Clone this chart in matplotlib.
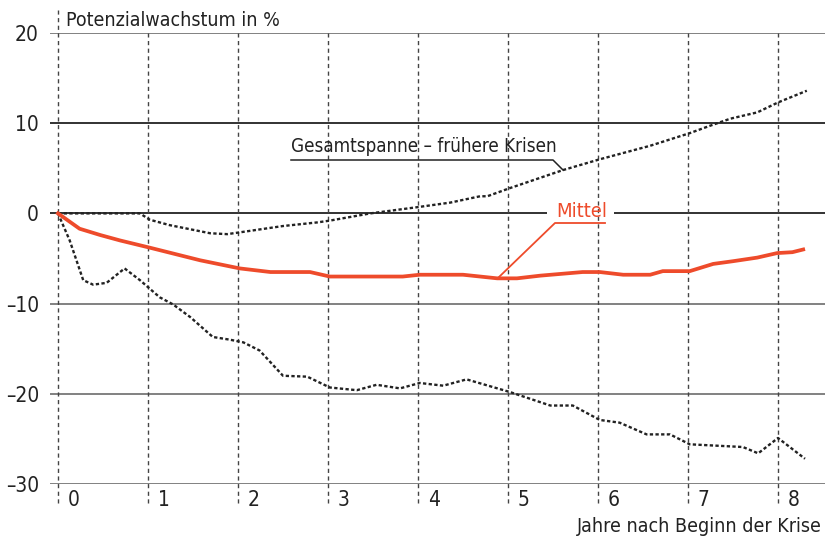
import matplotlib
matplotlib.use("Agg")
import matplotlib.pyplot as plt
from matplotlib import font_manager
from matplotlib.font_manager import FontProperties

# pick a condensed font if available
FONT = None
for f in font_manager.fontManager.ttflist:
    n = f.fname.lower()
    if ('condensed' in n or 'narrow' in n) and 'bold' not in n and 'oblique' not in n and 'italic' not in n:
        if FONT is None or 'dejavusans' in n.replace('-', '').replace('_', ''):
            FONT = f.fname
if FONT:
    FP = lambda size: FontProperties(fname=FONT, size=size)
else:
    FP = lambda size: FontProperties(family=['Roboto', 'DejaVu Sans'], size=size)

# ---- data ----
upper_x = [0, 0.91, 1.02, 1.24, 1.69, 1.88, 2.02, 2.5, 2.88, 3.02, 3.47, 4.0, 4.36, 4.69, 4.77,
           5.02, 5.61, 6.02, 6.58, 7.02, 7.24, 7.47, 7.77, 8.0, 8.32]
upper_y = [0, 0, -0.7, -1.3, -2.2, -2.3, -2.1, -1.4, -1.0, -0.8, 0, 0.7, 1.2, 1.9, 1.9,
           2.8, 4.8, 6.0, 7.5, 8.9, 9.7, 10.5, 11.2, 12.3, 13.6]
lower_x = [0, 0.13, 0.28, 0.39, 0.54, 0.74, 0.91, 1.13, 1.28, 1.47, 1.72, 1.91, 2.06, 2.24, 2.5,
           2.77, 3.02, 3.32, 3.54, 3.8, 4.02, 4.28, 4.54, 5.02, 5.47, 5.72, 6.02, 6.24, 6.54,
           6.8, 7.02, 7.61, 7.78, 8.0, 8.3]
lower_y = [0, -3, -7.4, -7.9, -7.7, -6.1, -7.4, -9.3, -10.1, -11.5, -13.7, -14.0, -14.3, -15.2, -18.0,
           -18.1, -19.3, -19.6, -19.0, -19.4, -18.8, -19.1, -18.4, -19.8, -21.3, -21.3, -22.9, -23.2, -24.5,
           -24.5, -25.6, -25.9, -26.6, -24.9, -27.2]
mean_x = [0, 0.24, 0.47, 0.69, 1.02, 1.58, 2.02, 2.36, 2.8, 3.02, 3.83, 4.02, 4.5, 4.88, 5.1,
          5.36, 5.83, 6.02, 6.28, 6.58, 6.72, 7.02, 7.28, 7.5, 7.77, 7.99, 8.16, 8.28]
mean_y = [0, -1.7, -2.4, -3.0, -3.8, -5.2, -6.1, -6.5, -6.5, -7.0, -7.0, -6.8, -6.8, -7.2, -7.2,
          -6.9, -6.5, -6.5, -6.8, -6.8, -6.4, -6.4, -5.6, -5.3, -4.9, -4.4, -4.3, -4.0]
years = [0, 1, 2, 3, 4, 5, 6, 7, 8]
yticks = [20, 10, 0, -10, -20, -30]
ylabels = ['20', '10', '0', '–10', '–20', '–30']

ORANGE = '#EE4B2B'
W, H = 825, 540
fig = plt.figure(figsize=(W / 100, H / 100), dpi=100)
ax = fig.add_axes([50 / W, 1 - 484 / H, 1 - 50 / W, 451 / H])
ax.set_xlim((50 - 58) / 90, (825 - 58) / 90)
ax.set_ylim(-30, 20)
for s in ax.spines.values():
    s.set_visible(False)
ax.set_xticks([])
ax.set_yticks(yticks)
ax.set_yticklabels(ylabels, color='#222')
for lbl in ax.get_yticklabels():
    lbl.set_fontproperties(FP(15))
ax.tick_params(axis='y', length=0, pad=8)

# horizontal grid lines
for v in yticks:
    c = '#222' if v in (10, 0) else '#777'
    if v == 0:
        continue
    ax.axhline(v, color=c, lw=1.3, zorder=1)
# zero line interrupted by label
x0 = ax.get_xlim()[0]
ax.plot([x0, (547 - 58) / 90], [0, 0], color='#222', lw=1.3, zorder=1, solid_capstyle='butt')
ax.plot([(614 - 58) / 90, ax.get_xlim()[1]], [0, 0], color='#222', lw=1.3, zorder=1, solid_capstyle='butt')

# vertical dashed lines (only the first one reaches above the top grid line)
for yr in years:
    top = 1.051 if yr == 0 else 1.0
    ax.axvline(yr, ymin=-0.042, ymax=top, color='#444', lw=1.0, ls=(0, (3, 2.5)), clip_on=False, zorder=1)
    ax.annotate(str(yr), xy=(yr, 0), xycoords=('data', 'axes fraction'), xytext=(7, -4),
                textcoords='offset points', ha='left', va='top', fontproperties=FP(15), color='#222')

# series
ax.plot(upper_x, upper_y, color='#222', lw=1.7, ls=(0, (1.4, 1.0)), zorder=3)
ax.plot(lower_x, lower_y, color='#222', lw=1.7, ls=(0, (1.4, 1.0)), zorder=3)
ax.plot(mean_x, mean_y, color=ORANGE, lw=2.7, zorder=4, solid_joinstyle='round')

# annotations
def px(x, y):
    return ((x - 58) / 90, -30 + (484 - y) / 451 * 50)

tx, ty = px(291, 146)
ax.text(tx, ty, 'Gesamtspanne – frühere Krisen', fontproperties=FP(13.5), color='#222',
        ha='left', va='center', zorder=5)
a, b, c = px(291, 160), px(553, 160), px(563, 170)
ax.plot([a[0], b[0], c[0]], [a[1], b[1], c[1]], color='#222', lw=1.1, zorder=5)

mx, my = px(556, 211)
ax.text(mx, my, 'Mittel', fontproperties=FP(14.5), color=ORANGE, ha='left', va='center', zorder=5)
a, b, c = px(605, 223), px(555, 223), px(499, 277)
ax.plot([a[0], b[0], c[0]], [a[1], b[1], c[1]], color=ORANGE, lw=1.3, zorder=5)

# titles
fig.text(66 / W, 1 - 20 / H, 'Potenzialwachstum in %', fontproperties=FP(14), color='#222',
         ha='left', va='center')
fig.text(822 / W, 1 - 527 / H, 'Jahre nach Beginn der Krise', fontproperties=FP(14), color='#222',
         ha='right', va='center')

fig.savefig('out.png', dpi=100)
